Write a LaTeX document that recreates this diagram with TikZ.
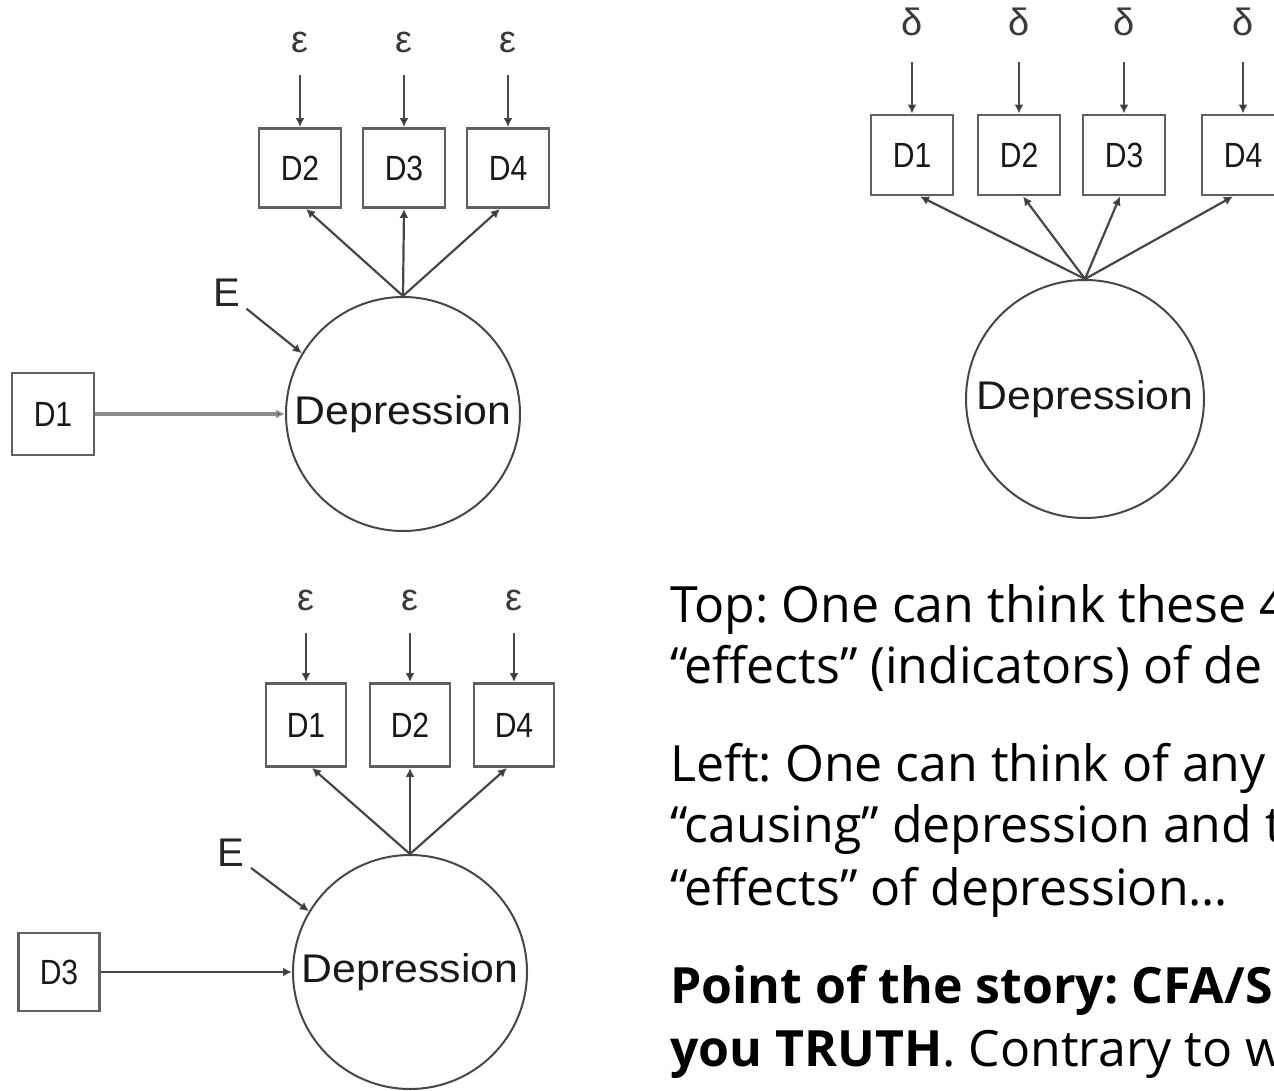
\documentclass[tikz,border=0pt]{standalone}
\usepackage{fontspec}
\usetikzlibrary{arrows.meta,calc}
\setmainfont{Liberation Sans}
\newfontfamily\bodyfont{Open Sans}
\newfontfamily\labelfont[FakeStretch=0.86]{Liberation Sans}
\newfontfamily\latentfont[FakeStretch=1.07]{Liberation Sans}
\definecolor{linegray}{HTML}{474747}
\definecolor{boxgray}{HTML}{606060}
\definecolor{errgray}{HTML}{3A3A3A}
\frenchspacing

\begin{document}
\begin{tikzpicture}[x=1pt,y=-1pt,
  ind/.style={draw=boxgray, line width=2.8pt, minimum width=82pt, minimum height=79pt,
    inner sep=0pt, font=\labelfont\fontsize{35}{35}\selectfont, text=black!90},
  latent/.style={circle, draw=linegray, line width=2pt, minimum size=#1,
    inner sep=0pt, font=\latentfont\fontsize{40}{40}\selectfont, text=black!90},
  err/.style={inner sep=0pt, font=\fontsize{38}{38}\selectfont, text=errgray},
  elabel/.style={inner sep=0pt, font=\fontsize{40}{40}\selectfont, text=black!85},
  conn/.style={draw=linegray, line width=2.2pt,
    -{Latex[length=9pt,width=9pt,fill=black!90]}},
  body/.style={anchor=base west, inner sep=0pt, font=\bodyfont\fontsize{50}{60}\selectfont}
]
\useasboundingbox (0,0) rectangle (1274,1091);
\clip (0,0) rectangle (1274,1091);
\fill[white] (0,0) rectangle (1274,1091);

% ---------- upper left: D1 as cause, D2-D4 as indicators ----------
\node[latent=234pt] (depA) at (403,414) {Depression};
\node[ind] (a2) at (300,168) {D2};
\node[ind] (a3) at (404,168) {D3};
\node[ind] (a4) at (508,168) {D4};
\node[ind, minimum height=82pt] (a1) at (53,414) {D1};
\node[err] (ea2) at (300,42) {ε};
\node[err] (ea3) at (404,42) {ε};
\node[err] (ea4) at (508,42) {ε};
\node[elabel] (EA) at (227,293) {E};
\foreach \i in {2,3,4}
  \draw[conn, shorten <=22pt] (ea\i.south) -- (a\i.north);
\draw[conn] (depA.north) -- ([xshift=6pt]a2.south);
\draw[conn] (depA.north) -- (a3.south);
\draw[conn] (depA.north) -- ([xshift=-8pt]a4.south);
\draw[conn, shorten <=25pt] (EA.center) -- (depA.149);
\draw[conn, draw=black!45, line width=3.4pt] (a1.east) -- (depA.west);

% ---------- upper right: four reflective indicators ----------
\node[latent=238pt] (depB) at (1085,399) {Depression};
\node[ind, minimum height=80pt] (b1) at (912,155) {D1};
\node[ind, minimum height=80pt] (b2) at (1019,155) {D2};
\node[ind, minimum height=80pt] (b3) at (1124,155) {D3};
\node[ind, minimum height=80pt] (b4) at (1243,155) {D4};
\node[err] (db1) at (912,22) {δ};
\node[err] (db2) at (1019,22) {δ};
\node[err] (db3) at (1124,22) {δ};
\node[err] (db4) at (1243,22) {δ};
\foreach \i in {1,...,4}
  \draw[conn, shorten <=26pt] (db\i.south) -- (b\i.north);
\draw[conn] (depB.north) -- ([xshift=8pt]b1.south);
\draw[conn] (depB.north) -- ([xshift=4pt]b2.south);
\draw[conn] (depB.north) -- ([xshift=-4pt]b3.south);
\draw[conn] (depB.north) -- ([xshift=-10pt]b4.south);

% ---------- lower left: D3 as cause, D1, D2, D4 as indicators ----------
\node[latent=234pt] (depC) at (410,972) {Depression};
\node[ind, minimum width=80pt, minimum height=83pt] (c1) at (306,725) {D1};
\node[ind, minimum width=80pt, minimum height=83pt] (c2) at (410,725) {D2};
\node[ind, minimum width=80pt, minimum height=83pt] (c4) at (514,725) {D4};
\node[ind, minimum width=81pt, minimum height=78pt] (c3) at (59,972) {D3};
\node[err] (ec1) at (306,600) {ε};
\node[err] (ec2) at (410,600) {ε};
\node[err] (ec4) at (514,600) {ε};
\node[elabel] (EC) at (231,853) {E};
\foreach \i in {1,2,4}
  \draw[conn, shorten <=22pt] (ec\i.south) -- (c\i.north);
\draw[conn] (depC.north) -- ([xshift=6pt]c1.south);
\draw[conn] (depC.north) -- (c2.south);
\draw[conn] (depC.north) -- ([xshift=-7pt]c4.south);
\draw[conn, shorten <=25pt] (EC.center) -- (depC.149);
\draw[conn] (c3.east) -- (depC.west);

% ---------- explanatory text ----------
\node[body] (t1) at (670,622) {Top: One can think these 4};
\node[body] (t2) at (670,683) {“effects” (indicators) of de};
\node[body] (t3) at (670,781) {Left: One can think of any};
\node[body] (t4) at (670,842) {“causing” depression and t};
\node[body] (t5) at (670,905) {“effects” of depression…};
\node[body] (t6) at (670,1003) {\bfseries Point of the story: CFA/S};
\node[body] (t7) at (670,1066) {\textbf{you TRUTH}. Contrary to w};
\end{tikzpicture}
\end{document}
